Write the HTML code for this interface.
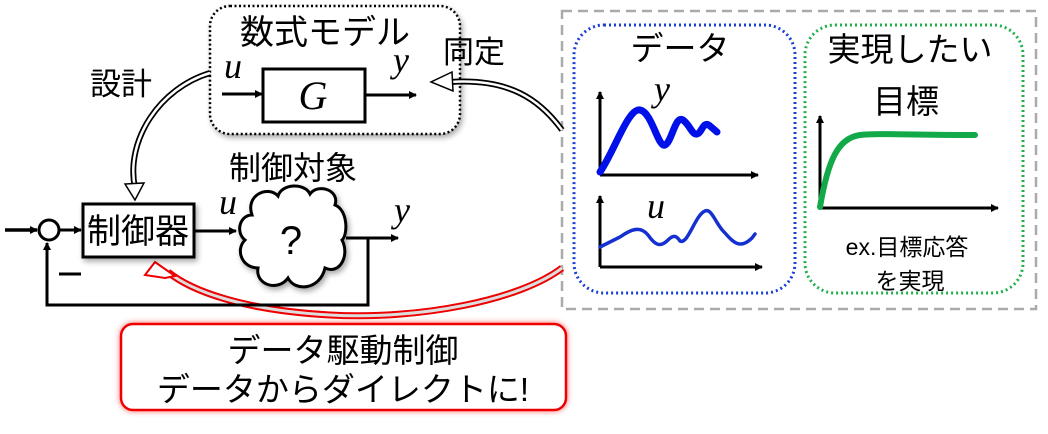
<!DOCTYPE html>
<html><head><meta charset="utf-8"><style>
html,body{margin:0;padding:0;background:#fff}
svg{display:block}
text{font-family:"Liberation Sans","Noto Sans CJK JP",sans-serif}
.m{font-family:"Liberation Serif",serif;font-style:italic}
</style></head><body>
<svg width="1048" height="434" viewBox="0 0 1048 434" xmlns="http://www.w3.org/2000/svg">
<defs>
<marker id="ah" markerWidth="8" markerHeight="8" refX="7" refY="4" orient="auto" markerUnits="userSpaceOnUse"><path d="M0,0 L8,4 L0,8 Z" fill="#000"/></marker>
<filter id="sh" x="-10%" y="-10%" width="120%" height="130%"><feGaussianBlur in="SourceAlpha" stdDeviation="3"/><feOffset dx="2" dy="3"/><feComponentTransfer><feFuncA type="linear" slope="0.35"/></feComponentTransfer><feMerge><feMergeNode/><feMergeNode in="SourceGraphic"/></feMerge></filter>
<filter id="rg" x="-10%" y="-20%" width="120%" height="150%"><feGaussianBlur in="SourceAlpha" stdDeviation="4"/><feOffset dx="2" dy="5"/><feFlood flood-color="#f66"/><feComposite operator="in" in2="SourceAlpha"/><feGaussianBlur stdDeviation="3"/><feMerge><feMergeNode/><feMergeNode in="SourceGraphic"/></feMerge></filter>
</defs>

<rect x="562" y="11" width="474" height="298" fill="none" stroke="#aaa" stroke-width="2.5" stroke-dasharray="10,6"/>
<rect x="574" y="25" width="221" height="268" rx="30" fill="#fff" stroke="#1a3fd6" stroke-width="3" stroke-dasharray="2,3"/>
<rect x="805" y="25" width="218" height="268" rx="30" fill="#fff" stroke="#1fb04a" stroke-width="3" stroke-dasharray="2,3"/>

<text x="680" y="60" font-size="33" text-anchor="middle">データ</text>
<text x="910" y="61" font-size="33" text-anchor="middle">実現したい</text>
<text x="906" y="113" font-size="33" text-anchor="middle">目標</text>
<text x="907" y="255" font-size="23" text-anchor="middle">ex.目標応答</text>
<text x="910" y="289" font-size="23" text-anchor="middle">を実現</text>

<line x1="600" y1="175" x2="758" y2="175" stroke="#000" stroke-width="3" marker-end="url(#ah)"/>
<line x1="600" y1="175" x2="600" y2="92" stroke="#000" stroke-width="3" marker-end="url(#ah)"/>
<path d="M600,172 C615,150 628,108 640,110 C652,112 658,148 665,145 C672,142 675,115 683,120 C690,125 692,135 697,134 C702,133 703,120 710,126 L717,132" fill="none" stroke="#0010e8" stroke-width="7" stroke-linecap="round"/>
<text x="662" y="101" font-size="36" class="m" text-anchor="middle">y</text>
<line x1="600" y1="267" x2="762" y2="267" stroke="#000" stroke-width="3" marker-end="url(#ah)"/>
<line x1="600" y1="267" x2="600" y2="196" stroke="#000" stroke-width="3" marker-end="url(#ah)"/>
<path d="M600,247 L620,237 C630,230 640,225 648,235 C655,245 660,248 668,240 C673,235 676,235 680,241 C688,245 695,215 705,211 C712,208 716,225 725,233 C733,242 740,250 752,238 L755,234" fill="none" stroke="#1430d0" stroke-width="3.5" stroke-linecap="round"/>
<text x="656" y="218" font-size="36" class="m" text-anchor="middle">u</text>
<line x1="820" y1="208" x2="998" y2="208" stroke="#000" stroke-width="3" marker-end="url(#ah)"/>
<line x1="820" y1="208" x2="820" y2="116" stroke="#000" stroke-width="3" marker-end="url(#ah)"/>
<path d="M820,207 C828,160 838,138 860,135 C880,133 900,135 975,135" fill="none" stroke="#12aa48" stroke-width="6" stroke-linecap="round"/>

<rect x="210" y="6" width="250" height="128" rx="20" fill="#fff" stroke="#000" stroke-width="2.5" stroke-dasharray="2,2.5" filter="url(#sh)"/>
<text x="325" y="44" font-size="34" text-anchor="middle">数式モデル</text>
<rect x="263" y="69" width="102" height="53" fill="#fff" stroke="#000" stroke-width="3"/>
<text x="313" y="109" font-size="40" class="m" text-anchor="middle">G</text>
<line x1="222" y1="94" x2="262" y2="94" stroke="#000" stroke-width="3" marker-end="url(#ah)"/>
<line x1="365" y1="95" x2="416" y2="95" stroke="#000" stroke-width="3" marker-end="url(#ah)"/>
<text x="233" y="78" font-size="36" class="m" text-anchor="middle">u</text>
<text x="401" y="72" font-size="36" class="m" text-anchor="middle">y</text>

<text x="474" y="63" font-size="31" text-anchor="middle">同定</text>
<text x="121" y="95" font-size="31" text-anchor="middle">設計</text>

<path d="M210,73 C160,88 125,140 135,188" fill="none" stroke="#000" stroke-width="6"/>
<path d="M210,73 C160,88 125,140 135,188" fill="none" stroke="#fff" stroke-width="2.5"/>
<path d="M125,184 L135,200 L144,183 Z" fill="#fff" stroke="#000" stroke-width="1.5"/>

<path d="M562,130 C540,100 510,78 450,82" fill="none" stroke="#000" stroke-width="6"/>
<path d="M562,130 C540,100 510,78 450,82" fill="none" stroke="#fff" stroke-width="2.5"/>
<path d="M452,72 L431,82 L453,91 Z" fill="#fff" stroke="#000" stroke-width="1.5"/>

<path d="M562,268 C520,300 420,320 330,315 C240,310 190,290 168,272" fill="none" stroke="#e00" stroke-width="7"/>
<path d="M562,268 C520,300 420,320 330,315 C240,310 190,290 168,272" fill="none" stroke="#ddd" stroke-width="3"/>
<path d="M145,275 L155,262 L175,276 L165,278 Z" fill="#fff" stroke="#e00" stroke-width="2"/>

<line x1="5" y1="230" x2="37" y2="230" stroke="#000" stroke-width="3.5" marker-end="url(#ah)"/>
<circle cx="49" cy="230" r="10" fill="#fff" stroke="#000" stroke-width="3"/>
<line x1="59" y1="230" x2="81" y2="230" stroke="#000" stroke-width="3" marker-end="url(#ah)"/>
<rect x="83" y="204" width="111" height="53" fill="#fff" stroke="#000" stroke-width="3" filter="url(#sh)"/>
<text x="138" y="243" font-size="34" text-anchor="middle">制御器</text>
<line x1="195" y1="231" x2="236" y2="231" stroke="#000" stroke-width="3" marker-end="url(#ah)"/>
<text x="219" y="214" font-size="36" class="m">u</text>
<text x="293" y="179" font-size="32" text-anchor="middle">制御対象</text>
<path d="M252,215 C245,195 268,185 278,196 C282,183 305,183 310,194 C318,183 340,190 335,205 C348,210 348,235 342,240 C350,255 340,275 325,268 C320,290 295,292 288,278 C278,292 255,285 258,268 C242,268 235,250 245,240 C235,232 240,215 252,215 Z" fill="#fff" stroke="#000" stroke-width="3" filter="url(#sh)"/>
<text x="291" y="254" font-size="40" text-anchor="middle">?</text>
<line x1="346" y1="238" x2="398" y2="238" stroke="#000" stroke-width="3" marker-end="url(#ah)"/>
<text x="402" y="222" font-size="36" class="m" text-anchor="middle">y</text>
<polyline points="368,238 368,305 47,305 47,243" fill="none" stroke="#000" stroke-width="3" marker-end="url(#ah)"/>
<line x1="59" y1="274" x2="81" y2="274" stroke="#000" stroke-width="3"/>

<rect x="121" y="324" width="445" height="86" rx="12" fill="#fff" stroke="#e00" stroke-width="2.5" filter="url(#rg)"/>
<text x="343" y="362" font-size="33" text-anchor="middle">データ駆動制御</text>
<text x="343" y="401" font-size="33" text-anchor="middle">データからダイレクトに!</text>
</svg>
</body></html>
